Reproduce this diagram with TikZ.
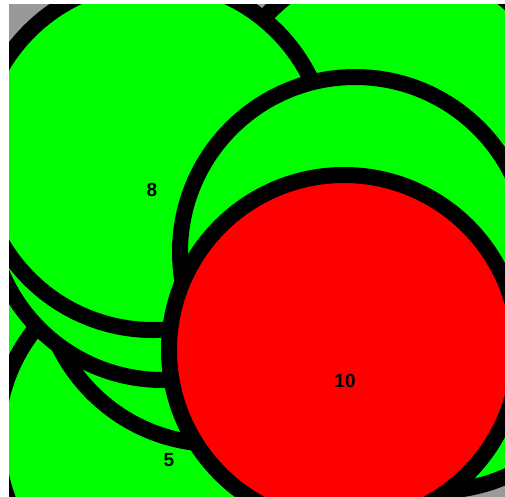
\documentclass[tikz,border=0pt]{standalone}
\usepackage{fontspec}
\setmainfont{Liberation Sans}
\definecolor{bggray}{RGB}{153,153,153}
\definecolor{bubble}{RGB}{0,255,0}
\definecolor{hot}{RGB}{255,0,0}
\begin{document}
\begin{tikzpicture}[x=1pt,y=-1pt,
  bubblestyle/.style={fill=bubble,draw=black,line width=16pt},
  hotstyle/.style={fill=hot,draw=black,line width=16pt},
  lbl/.style={font=\fontsize{19}{19}\selectfont\bfseries,text=black,inner sep=0pt}]
\fill[white] (0,0) rectangle (505,496);
\useasboundingbox (0,0) rectangle (505,496);
\begin{scope}
  \clip (9,4) rectangle (512,502);
  \fill[bggray] (9,4) rectangle (512,502);
  \filldraw[bubblestyle] (-140,320) circle[radius=175pt];
  \filldraw[bubblestyle] (172,438) circle[radius=175pt];
  \filldraw[bubblestyle] (216,269) circle[radius=175pt];
  \filldraw[bubblestyle] (163,205) circle[radius=175pt];
  \filldraw[bubblestyle] (436,316) circle[radius=175pt];
  \filldraw[bubblestyle] (394,135) circle[radius=175pt];
  \filldraw[bubblestyle] (153,155) circle[radius=175pt];
  \filldraw[bubblestyle] (355,252) circle[radius=175pt];
  \filldraw[hotstyle] (344,350) circle[radius=175pt];
\end{scope}
\node[lbl] (l8) at (152,190) {8};
\node[lbl] (l10) at (345,381) {10};
\node[lbl] (l5) at (169,460) {5};
\end{tikzpicture}
\end{document}
